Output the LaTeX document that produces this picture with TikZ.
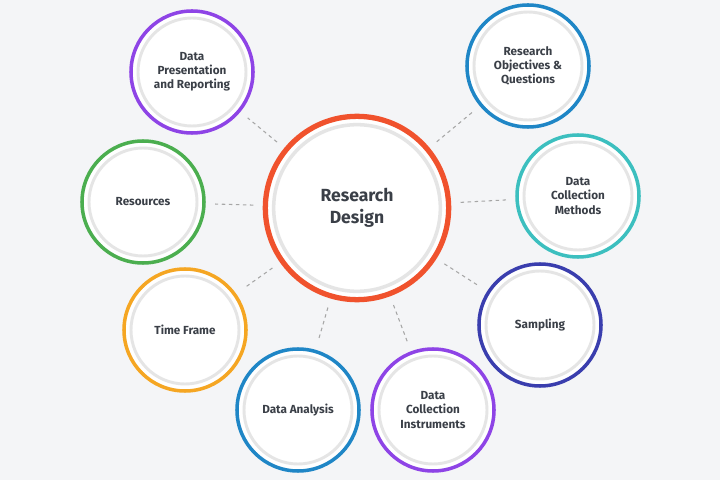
\documentclass[tikz,border=0pt]{standalone}
\usepackage{fontspec}
\setmainfont{Fira Sans}
\usetikzlibrary{positioning}
\definecolor{bgc}{HTML}{F4F5F7}
\definecolor{txt}{HTML}{3A3F47}
\definecolor{cred}{HTML}{F0522D}
\definecolor{cpur}{HTML}{8E44E6}
\definecolor{cblu}{HTML}{1F86C6}
\definecolor{cgrn}{HTML}{4BAE4F}
\definecolor{ctea}{HTML}{3CBFBF}
\definecolor{corg}{HTML}{F5A623}
\definecolor{cind}{HTML}{3A3EAE}
\tikzset{
  topic/.style={circle,draw=#1,line width=3pt,fill=white,minimum size=3.66cm,
    align=center,text=txt,font=\bfseries\fontsize{10}{12}\selectfont,inner sep=0pt,
    path picture={\draw[black!10,line width=2.5pt] (path picture bounding box.center) circle (1.62cm);}},
  hub/.style={circle,draw=cred,line width=4.5pt,fill=white,minimum size=5.5cm,
    align=center,text=txt,font=\bfseries\fontsize{15}{19}\selectfont,
    path picture={\draw[black!10,line width=3pt] (path picture bounding box.center) circle (2.5cm);}},
  link/.style={gray!70,dashed,line width=0.9pt,shorten <=8pt,shorten >=8pt}
}
\begin{document}
\begin{tikzpicture}[x=0.03cm,y=-0.03cm]
\fill[bgc] (0,0) rectangle (720,480);
\node[hub] (rd) at (357,208) {Research\\Design};

\node[topic=cpur] (dpr) at (192,72) {Data\\Presentation\\and Reporting};
\node[topic=cblu] (roq) at (528,66) {Research\\Objectives \&\\Questions};
\node[topic=cgrn] (res) at (143,202) {Resources};
\node[topic=ctea] (dcm) at (578,196) {Data\\Collection\\Methods};
\node[topic=corg] (tf) at (185,330) {Time Frame};
\node[topic=cind] (smp) at (540,325) {Sampling};
\node[topic=cblu] (da) at (298,410) {Data Analysis};
\node[topic=cpur] (dci) at (433,410) {Data\\Collection\\Instruments};

\foreach \t in {dpr,roq,res,dcm,tf,smp,da,dci}
  \draw[link] (rd) -- (\t);
\end{tikzpicture}
\end{document}
